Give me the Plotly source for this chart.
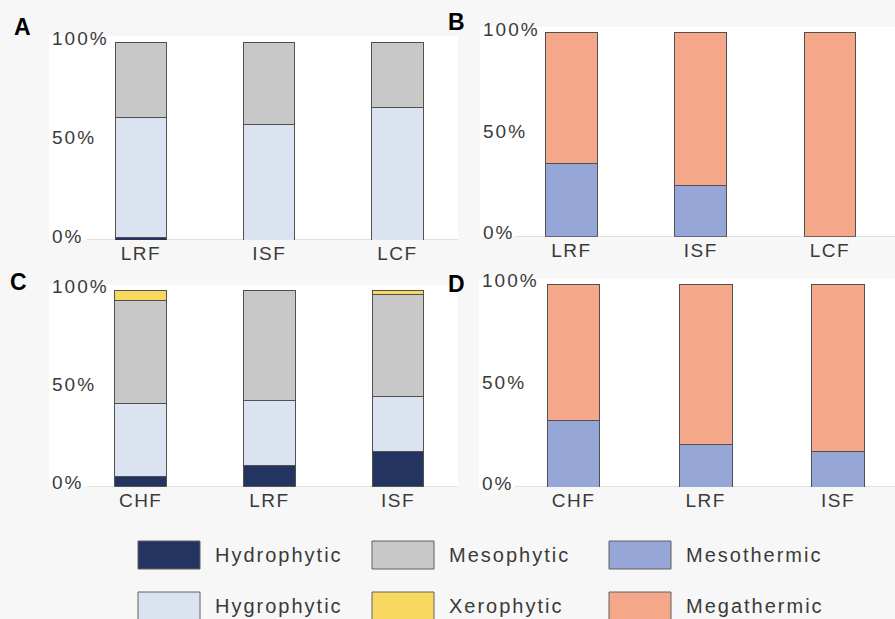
import plotly.graph_objects as go

# ---------------- data ----------------
cats_A = ["LRF", "ISF", "LCF"]
hydrophytic_A = [1.2, 0.0, 0.0]
hygrophytic_A = [60.6, 58.4, 67.0]
mesophytic_A = [38.2, 41.6, 33.0]

cats_B = ["LRF", "ISF", "LCF"]
mesothermic_B = [36.0, 24.9, 0.0]
megathermic_B = [64.0, 75.1, 100.0]

cats_C = ["CHF", "LRF", "ISF"]
hydrophytic_C = [5.4, 10.7, 17.9]
hygrophytic_C = [36.9, 33.4, 27.9]
mesophytic_C = [52.8, 55.9, 52.2]
xerophytic_C = [4.9, 0.0, 2.0]

cats_D = ["CHF", "LRF", "ISF"]
mesothermic_D = [33.1, 20.9, 17.5]
megathermic_D = [66.9, 79.1, 82.5]

y_tick_vals = [0, 50, 100]
y_tick_text = ["0%", "50%", "100%"]

legend_rows = [["Hydrophytic", "Mesophytic", "Mesothermic"],
               ["Hygrophytic", "Xerophytic", "Megathermic"]]

# ---------------- style ----------------
COLORS = {
    "Hydrophytic": "#22345f",
    "Hygrophytic": "#dbe3f1",
    "Mesophytic": "#c8c8c8",
    "Xerophytic": "#f9d862",
    "Mesothermic": "#95a6d7",
    "Megathermic": "#f4a789",
}
OUTLINE = "#505050"
FONT = "Liberation Sans, Arial, sans-serif"
TXT = "#3a3a3a"
W, H = 895, 619


def fx(p):
    return p / W


def fy(p):
    return 1 - p / H


def spaced(s, px):
    return f'<span style="letter-spacing:{px}px">{s}</span>'


panels = [
    dict(label="A", cats=cats_A,
         series=[("Hydrophytic", hydrophytic_A), ("Hygrophytic", hygrophytic_A),
                 ("Mesophytic", mesophytic_A)],
         xl=49, xr=458, ybase=240, y100=42, c0=141, sp=128.25, lab=(22, 27), base_from=87),
    dict(label="B", cats=cats_B,
         series=[("Mesothermic", mesothermic_B), ("Megathermic", megathermic_B)],
         xl=480, xr=895, ybase=236.7, y100=33, c0=571.5, sp=129.25, lab=(457, 22), base_from=515),
    dict(label="C", cats=cats_C,
         series=[("Hydrophytic", hydrophytic_C), ("Hygrophytic", hygrophytic_C),
                 ("Mesophytic", mesophytic_C), ("Xerophytic", xerophytic_C)],
         xl=49, xr=458, ybase=486.7, y100=290.7, c0=140.7, sp=128.65, lab=(18, 282), base_from=87),
    dict(label="D", cats=cats_D,
         series=[("Mesothermic", mesothermic_D), ("Megathermic", megathermic_D)],
         xl=479, xr=895, ybase=487, y100=284.7, c0=573.5, sp=132.25, lab=(457, 284), base_from=515),
]

fig = go.Figure()
shapes = []
annotations = []
YMAX = 103

for i, p in enumerate(panels, start=1):
    xa = "x" if i == 1 else f"x{i}"
    ya = "y" if i == 1 else f"y{i}"
    for name, vals in p["series"]:
        fig.add_trace(go.Bar(
            x=p["cats"], y=vals, name=name, width=0.4,
            marker=dict(color=COLORS[name], line=dict(color=OUTLINE, width=1)),
            xaxis=xa, yaxis=ya, showlegend=False,
        ))
    pxper = (p["ybase"] - p["y100"]) / 100
    ytop = p["ybase"] - YMAX * pxper
    left_val = -(p["c0"] - p["xl"]) / p["sp"]
    right_val = 2 + (p["xr"] - (p["c0"] + 2 * p["sp"])) / p["sp"]
    xkey = "xaxis" if i == 1 else f"xaxis{i}"
    ykey = "yaxis" if i == 1 else f"yaxis{i}"
    fig.update_layout(**{
        xkey: dict(domain=[fx(p["xl"]), fx(min(p["xr"], W))], anchor=ya, automargin=False,
                   type="category", categoryorder="array", categoryarray=p["cats"],
                   tickvals=p["cats"], ticktext=[spaced(c, 1.5) for c in p["cats"]],
                   range=[left_val, right_val], showgrid=False, zeroline=False,
                   showline=False, ticks="", tickfont=dict(size=19, color=TXT, family=FONT)),
        ykey: dict(domain=[fy(p["ybase"]), fy(ytop)], anchor=xa, range=[0, YMAX],
                   automargin=False,
                   tickvals=y_tick_vals, ticktext=[spaced(t, 2) for t in y_tick_text],
                   ticklabelposition="inside", ticklabelshift=-4, ticklabeloverflow="allow",
                   showgrid=False, zeroline=False, showline=False, ticks="",
                   tickfont=dict(size=19, color=TXT, family=FONT)),
    })
    frac = (p["base_from"] - p["xl"]) / (p["xr"] - p["xl"])
    shapes.append(dict(type="line", xref=f"{xa} domain", yref=ya, x0=frac, x1=1, y0=0, y1=0,
                       line=dict(color="#d6d6d6", width=1.5), layer="below"))
    annotations.append(dict(text=f"<b>{p['label']}</b>", x=fx(p["lab"][0]), y=fy(p["lab"][1]),
                            xref="paper", yref="paper", xanchor="center", yanchor="middle",
                            showarrow=False, font=dict(size=23, color="#000", family=FONT)))

# ---------------- manual legend ----------------
col_x = [138, 372, 609]
row_y = [541, 592]
sw_w, sw_h = 62, 28
for r, row in enumerate(legend_rows):
    for c, name in enumerate(row):
        x0, y0 = col_x[c], row_y[r]
        shapes.append(dict(type="rect", xref="paper", yref="paper",
                           x0=fx(x0), x1=fx(x0 + sw_w), y0=fy(y0 + sw_h), y1=fy(y0),
                           fillcolor=COLORS[name], line=dict(color="#606060", width=1)))
        annotations.append(dict(text=spaced(name, 2), x=fx(x0 + sw_w + 13), y=fy(y0 + sw_h / 2),
                                xref="paper", yref="paper", xanchor="left", yanchor="middle",
                                showarrow=False, font=dict(size=20, color=TXT, family=FONT)))

fig.update_layout(
    width=W, height=H, margin=dict(l=0, r=0, t=0, b=0, autoexpand=False),
    barmode="stack", bargap=0.6,
    paper_bgcolor="#f7f7f7", plot_bgcolor="#ffffff",
    shapes=shapes, annotations=annotations,
    font=dict(family=FONT, color=TXT),
)

fig.write_html("out.html")
